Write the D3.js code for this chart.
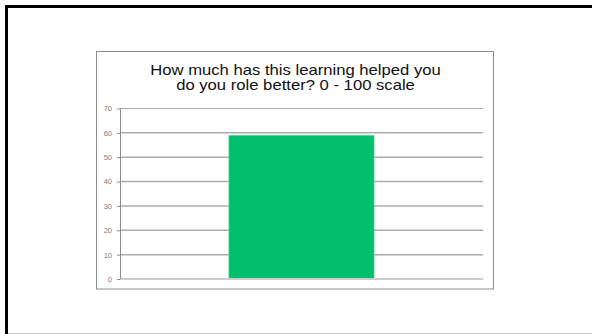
<!DOCTYPE html>
<html>
<head>
<meta charset="utf-8">
<script src="https://cdn.jsdelivr.net/npm/d3@7"></script>
<style>
  html, body { margin: 0; padding: 0; background: #fff; }
  svg { display: block; }
</style>
</head>
<body>
<svg id="chart" width="592" height="334"></svg>
<script>
// Survey result: a single category with its average score
const categories = ["Score"];
const values = [59];
const yTicks = [0, 10, 20, 30, 40, 50, 60, 70];
const titleLines = ["How much has this learning helped you", "do you role better? 0 - 100 scale"];

const svg = d3.select("#chart");
const W = 592, H = 334;

// Slide frame: heavy top/left edges, faint bottom edge
svg.append("rect").attr("x", 0).attr("y", 0).attr("width", W).attr("height", H).attr("fill", "#fff");
svg.append("line").attr("x1", 8).attr("x2", W).attr("y1", 333.5).attr("y2", 333.5)
  .attr("stroke", "#cfcfcf").attr("stroke-width", 1);
svg.append("rect").attr("x", 5).attr("y", 5).attr("width", W - 5).attr("height", 3).attr("fill", "#000");
svg.append("rect").attr("x", 5).attr("y", 5).attr("width", 3).attr("height", H - 5).attr("fill", "#000");

// Chart container box
const box = { x: 96.5, y: 51.5, w: 397, h: 237.5 };
svg.append("rect").attr("x", box.x).attr("y", box.y).attr("width", box.w).attr("height", box.h)
  .attr("fill", "#fff").attr("stroke", "#8c8c8c").attr("stroke-width", 1);

// Title (slightly widened letterforms)
const titleCx = 295.5;
const title = svg.append("text")
  .attr("text-anchor", "middle")
  .attr("font-family", "Arial, 'Liberation Sans', sans-serif")
  .attr("font-size", 14)
  .attr("fill", "#111")
  .attr("transform", `translate(${titleCx},0) scale(1.19,1)`);
titleLines.forEach((t, i) => {
  title.append("tspan").attr("x", 0).attr("y", 75.5 + i * 14.5).text(t);
});

// Plot area
const plot = { left: 120, right: 483, top: 108.5, bottom: 279 };

const x = d3.scaleBand()
  .domain(categories)
  .range([plot.left, plot.right])
  .paddingInner(0.6)
  .paddingOuter(0.3);

const y = d3.scaleLinear()
  .domain([0, 70])
  .range([plot.bottom, plot.top]);

// Gridlines
svg.append("g")
  .selectAll("line")
  .data(yTicks.filter(d => d > 0))
  .join("line")
  .attr("x1", plot.left).attr("x2", plot.right)
  .attr("y1", d => y(d)).attr("y2", d => y(d))
  .attr("stroke", d => d === 70 ? "#a8a8a8" : "#ababab")
  .attr("stroke-width", d => d === 70 ? 1 : 1.5);

// Bars
svg.append("g")
  .selectAll("rect")
  .data(values)
  .join("rect")
  .attr("x", (d, i) => x(categories[i]))
  .attr("y", d => y(d))
  .attr("width", x.bandwidth())
  .attr("height", d => y(0) - y(d))
  .attr("fill", "#00c06e")
  .attr("stroke", "#5fd9a2")
  .attr("stroke-width", 0.6);

// Category axis line
svg.append("line")
  .attr("x1", plot.left).attr("x2", plot.right)
  .attr("y1", y(0)).attr("y2", y(0))
  .attr("stroke", "#cdcdcd").attr("stroke-width", 2);

// Value axis
const yAxis = d3.axisLeft(y)
  .tickValues(yTicks)
  .tickSize(3)
  .tickPadding(5)
  .tickFormat(d3.format("d"));

const yg = svg.append("g")
  .attr("transform", `translate(${plot.left},0)`)
  .call(yAxis);
yg.select(".domain").attr("stroke", "#8c8c8c").attr("stroke-width", 1)
  .attr("d", `M0.5,${plot.top}V${plot.bottom}`);
yg.selectAll(".tick line").attr("stroke", "#8c8c8c");
yg.selectAll(".tick text")
  .attr("font-family", "Arial, 'Liberation Sans', sans-serif")
  .attr("font-size", 7.5)
  .attr("fill", "#808080");
</script>
</body>
</html>
